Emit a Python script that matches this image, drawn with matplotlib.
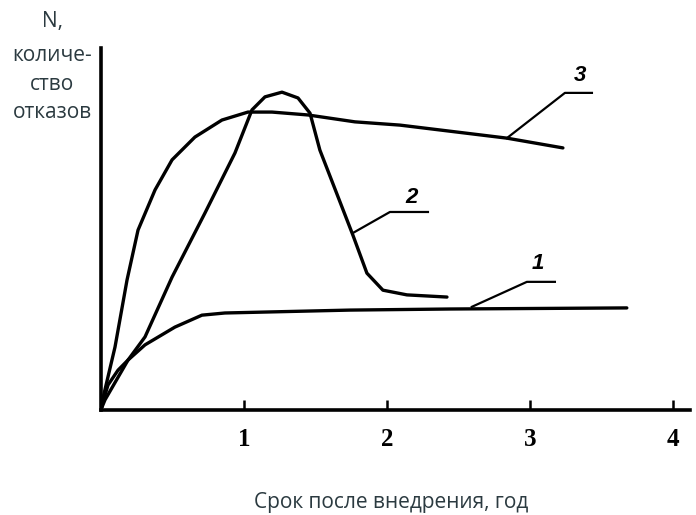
import matplotlib.pyplot as plt
import numpy as np

# curve 1 - steady level of failures
x1 = [0.007, 0.049, 0.119, 0.189, 0.308, 0.517, 0.706, 0.867, 1.741, 2.441, 3.678]
n1 = [1.4, 6.9, 11.0, 13.8, 18.0, 22.9, 26.2, 26.8, 27.6, 27.9, 28.2]

# curve 2 - peak then drop
x2 = [0.007, 0.028, 0.189, 0.308, 0.497, 0.727, 0.937, 1.056, 1.147, 1.266, 1.378,
      1.462, 1.531, 1.650, 1.762, 1.860, 1.972, 2.140, 2.420]
n2 = [0.8, 2.8, 13.8, 20.2, 36.7, 54.4, 71.0, 82.9, 86.5, 87.8, 86.2,
      82.0, 71.8, 59.7, 48.3, 37.8, 33.1, 31.8, 31.2]

# curve 3 - fast rise, slow decline
x3 = [0.007, 0.014, 0.098, 0.182, 0.259, 0.378, 0.497, 0.657, 0.846, 1.028, 1.196,
      1.448, 1.776, 2.091, 2.839, 3.231]
n3 = [0.8, 3.3, 17.4, 35.9, 49.7, 60.8, 69.1, 75.4, 80.1, 82.3, 82.3,
      81.5, 79.6, 78.7, 75.1, 72.4]

curve_labels = ['1', '2', '3']
label_pos = [(3.056, 40.6), (2.175, 58.6), (3.35, 92.5)]
leaders = [
    ([2.594, 2.979, 3.175], [28.5, 35.4, 35.4]),
    ([1.762, 2.021, 2.287], [48.9, 54.7, 54.7]),
    ([2.839, 3.245, 3.434], [75.1, 87.6, 87.6]),
]

xticks = [1, 2, 3, 4]
ylabel_lines = ['N,', 'количе-', 'ство', 'отказов']
ylabel_base = [27, 61, 90, 118]   # baselines, px from top

fig = plt.figure(figsize=(6.96, 5.15), dpi=100)
ax = fig.add_axes([101 / 696, 105 / 515, 589 / 696, 362 / 515])

lw = 2.4
for xs, ns in [(x1, n1), (x2, n2), (x3, n3)]:
    ax.plot(xs, ns, color='black', lw=lw, solid_capstyle='round', solid_joinstyle='round')

for (lx, ly), lab, (px, py) in zip(label_pos, curve_labels, leaders):
    ax.plot(px, py, color='black', lw=1.6)
    ax.text(lx, ly, lab, fontsize=16, fontweight='bold', fontstyle='italic',
            family='Liberation Sans', ha='center', va='center')

ax.set_xlim(0, 4.12)
ax.set_ylim(0, 100)
ax.spines['top'].set_visible(False)
ax.spines['right'].set_visible(False)
ax.spines['left'].set_linewidth(2.6)
ax.spines['bottom'].set_linewidth(2.6)
ax.set_yticks([])
ax.set_xticks(xticks)
ax.set_xticklabels([str(t) for t in xticks], fontsize=18, fontweight='bold',
                   family='Liberation Serif')
ax.tick_params(axis='x', direction='in', length=7, width=1.8, pad=13)

txt_color = '#2b3a40'
fig.text(391 / 696, 1 - 508 / 515, 'Срок после внедрения, год', fontsize=15,
         family='Open Sans', color=txt_color, ha='center', va='baseline')
for line, base in zip(ylabel_lines, ylabel_base):
    fig.text(52 / 696, 1 - base / 515, line, fontsize=15, family='Open Sans',
             color=txt_color, ha='center', va='baseline')

fig.savefig('out.png', dpi=100)
